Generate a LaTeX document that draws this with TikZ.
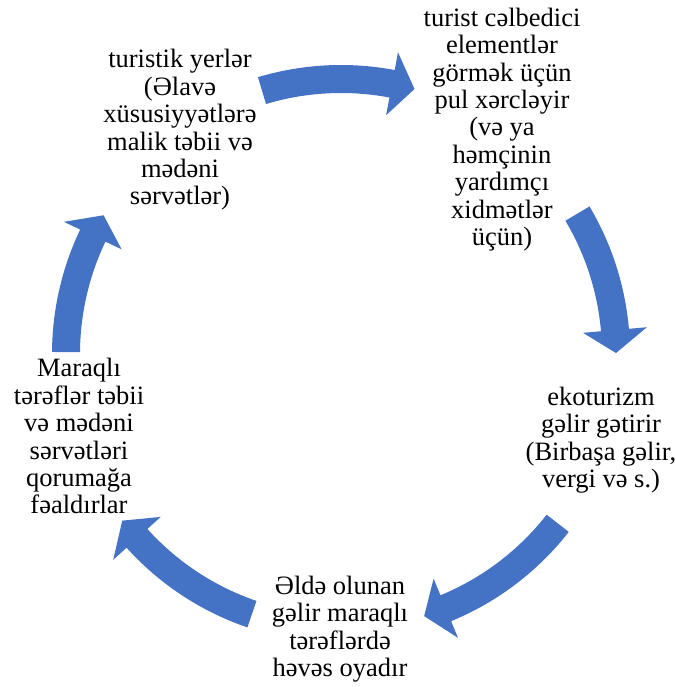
\documentclass[tikz,border=0pt]{standalone}
\usepackage{fontspec}
\setmainfont{Liberation Serif}
\definecolor{arrowblue}{RGB}{68,114,196}
\newcommand\cycarrow[2]{%
  \pgfmathsetmacro\hbase{#2+4.8}%
  \fill[arrowblue] (#1:289pt) arc[start angle=#1,end angle=\hbase,radius=289pt]
    -- (\hbase:307pt) -- (#2:275pt) -- (\hbase:243pt) -- (\hbase:261pt)
    arc[start angle=\hbase,end angle=#1,radius=261pt] -- cycle;}
\begin{document}
\begin{tikzpicture}[x=1pt,y=1pt,
  txt/.style={align=center, inner sep=0pt, font=\fontsize{26.5pt}{27.4pt}\selectfont}]
\useasboundingbox (0,0) rectangle (676,687);
\begin{scope}[shift={(341,333)}]
  \cycarrow{106.7}{74.5}
  \cycarrow{30.7}{0.2}
  \cycarrow{-38}{-72.4}
  \cycarrow{-108.9}{-142.7}
  \cycarrow{179.6}{149.7}
\end{scope}
\node[txt] (tl) at (180,556) {\strut turistik yerlər\\(Əlavə\\xüsusiyyətlərə\\malik təbii və\\mədəni\\sərvətlər)\strut};
\node[txt] (tr) at (502,556.5) {\strut turist cəlbedici\\elementlər\\görmək üçün\\pul xərcləyir\\(və ya\\həmçinin\\yardımçı\\xidmətlər\\üçün)\strut};
\node[txt] (r) at (601,246) {\strut ekoturizm\\gəlir gətirir\\(Birbaşa gəlir,\\vergi və s.)\strut};
\node[txt] (b) at (340,57) {\strut Əldə olunan\\gəlir maraqlı\\tərəflərdə\\həvəs oyadır\strut};
\node[txt] (l) at (79,247) {\strut Maraqlı\\tərəflər təbii\\və mədəni\\sərvətləri\\qorumağa\\fəaldırlar\strut};
\end{tikzpicture}
\end{document}
